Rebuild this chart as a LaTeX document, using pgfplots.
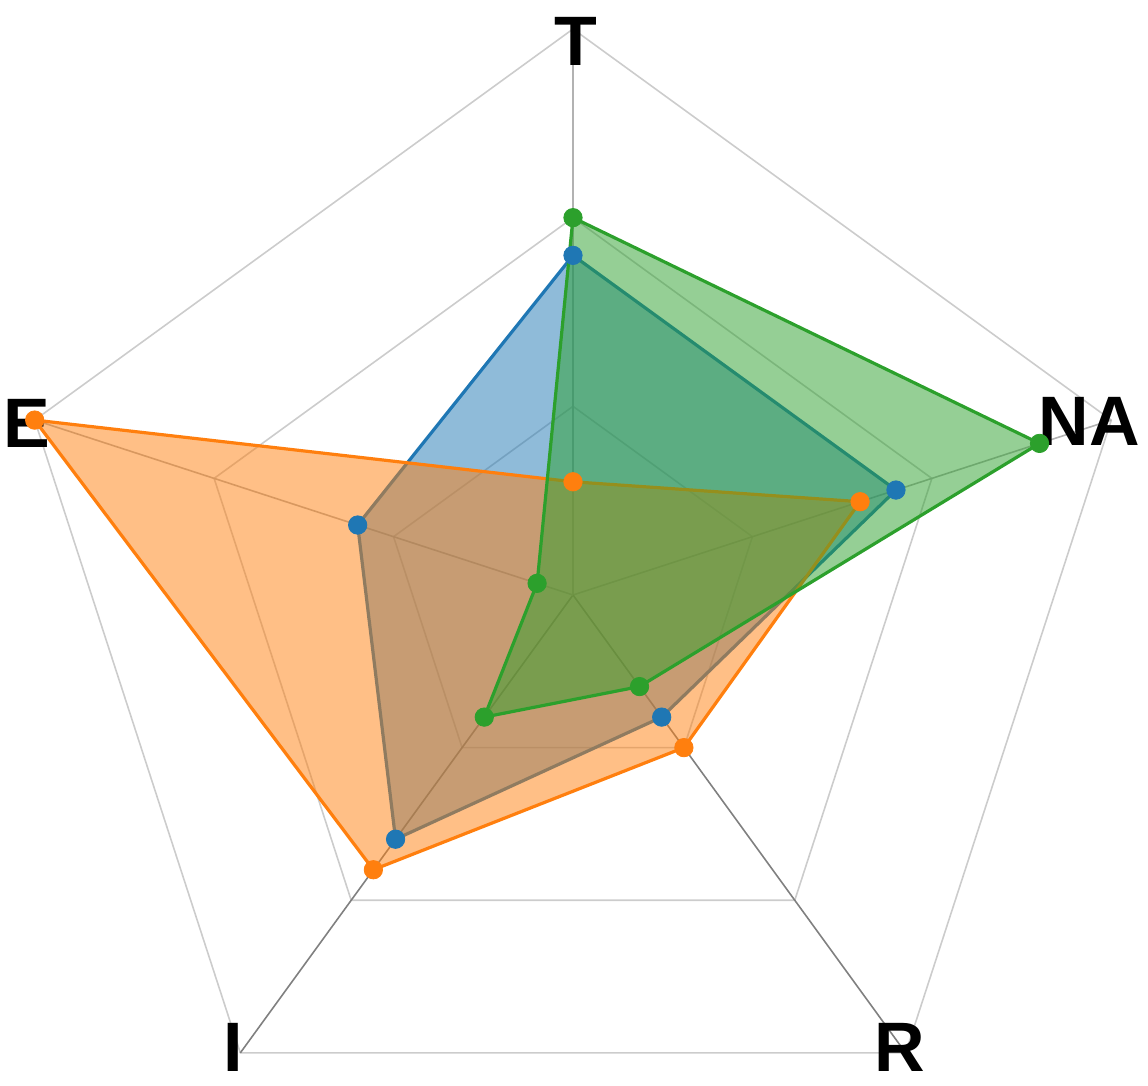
\documentclass[border=0pt]{standalone}
\usepackage{pgfplots}
\pgfplotsset{compat=1.18}
\usepgfplotslibrary{polar}
\usepackage{fontspec}
\setmainfont{Liberation Sans}
\definecolor{cblue}{HTML}{1F77B4}
\definecolor{corange}{HTML}{FF7F0E}
\definecolor{cgreen}{HTML}{2CA02C}
\begin{document}
\begin{tikzpicture}
\begin{polaraxis}[
  hide axis, scale only axis, width=566pt, height=566pt,
  ymin=0, ymax=3, clip=false,
  every axis plot/.append style={line join=round},
]
% grid pentagons
\addplot[black!20, line width=0.8pt] coordinates {(90,1) (18,1) (306,1) (234,1) (162,1) (90,1)};
\addplot[black!20, line width=0.8pt] coordinates {(90,2) (18,2) (306,2) (234,2) (162,2) (90,2)};
\addplot[black!20, line width=0.8pt] coordinates {(90,3) (18,3) (306,3) (234,3) (162,3) (90,3)};
% spokes
\addplot[black!30, line width=0.8pt] coordinates {(90,0) (90,3)};
\addplot[black!30, line width=0.8pt] coordinates {(18,0) (18,3)};
\addplot[black!50, line width=0.8pt] coordinates {(306,0) (306,3)};
\addplot[black!50, line width=0.8pt] coordinates {(234,0) (234,3)};
\addplot[black!30, line width=0.8pt] coordinates {(162,0) (162,3)};
% series: T, NA, R, I, E
\addplot[draw=cblue, line width=1.6pt, fill=cblue, fill opacity=0.5] coordinates
  {(90,1.8) (18,1.8) (306,0.8) (234,1.6) (162,1.2) (90,1.8)};
\addplot[draw=corange, line width=1.6pt, fill=corange, fill opacity=0.5] coordinates
  {(90,0.6) (18,1.6) (306,1.0) (234,1.8) (162,3.0) (90,0.6)};
\addplot[draw=cgreen, line width=1.6pt, fill=cgreen, fill opacity=0.5] coordinates
  {(90,2.0) (18,2.6) (306,0.6) (234,0.8) (162,0.2) (90,2.0)};
% markers
\addplot[only marks, mark=*, mark size=4.6pt, color=cblue] coordinates
  {(90,1.8) (18,1.8) (306,0.8) (234,1.6) (162,1.2)};
\addplot[only marks, mark=*, mark size=4.6pt, color=corange] coordinates
  {(90,0.6) (18,1.6) (306,1.0) (234,1.8) (162,3.0)};
\addplot[only marks, mark=*, mark size=4.6pt, color=cgreen] coordinates
  {(90,2.0) (18,2.6) (306,0.6) (234,0.8) (162,0.2)};
% labels
\begin{scope}[every node/.style={inner sep=0pt, font=\fontsize{35}{40}\selectfont\bfseries}]
\node[xshift=1.5pt, yshift=-6pt] at (axis cs:90,3) {T};
\node[xshift=-11pt, yshift=-0.5pt] at (axis cs:18,3) {NA};
\node[xshift=-3pt, yshift=2.5pt] at (axis cs:306,3) {R};
\node[xshift=-3.5pt, yshift=2.5pt] at (axis cs:234,3) {I};
\node[xshift=-4pt, yshift=-1.5pt] at (axis cs:162,3) {E};
\end{scope}
\coordinate (c) at (axis cs:0,0);
\end{polaraxis}
\pgfresetboundingbox
\path[use as bounding box] ([shift={(-286.5pt,-245.5pt)}]c) rectangle ([shift={(287.5pt,297.5pt)}]c);
\end{tikzpicture}
\end{document}
